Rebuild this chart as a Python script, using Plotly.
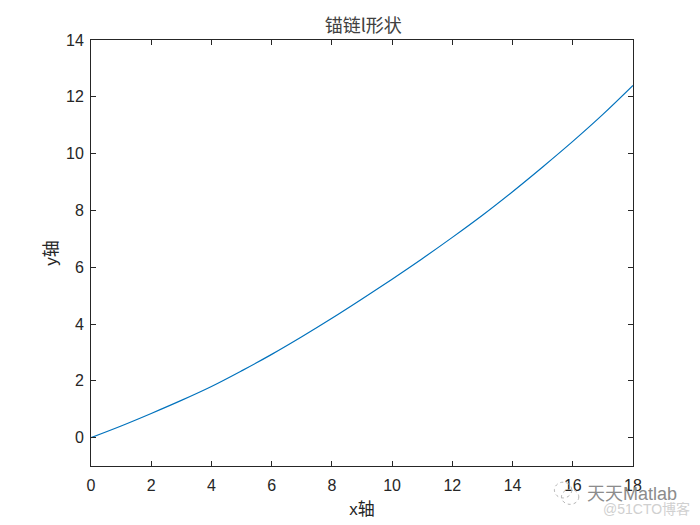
"""
plot.py
-------
Catenary-like curve with axis frame, in the MATLAB default look.
Writes out.html.
"""

import plotly.graph_objects as go

x_values = [0, 1, 2, 3, 4, 5, 6, 7, 8, 9, 10, 11, 12, 13, 14, 15, 16, 17, 18]
y_values = [0.0, 0.41, 0.85, 1.31, 1.80, 2.35, 2.93, 3.55, 4.20, 4.88, 5.58,
            6.30, 7.05, 7.83, 8.66, 9.53, 10.43, 11.38, 12.40]
x_ticks = [0, 2, 4, 6, 8, 10, 12, 14, 16, 18]
y_ticks = [0, 2, 4, 6, 8, 10, 12, 14]

TEXT = "#262626"
LINE = "#0072BD"
FONT = "Liberation Sans, Noto Sans CJK SC, sans-serif"
TITLE_FONT = "Noto Sans CJK SC, sans-serif"

fig = go.Figure()
fig.add_trace(go.Scatter(x=x_values, y=y_values, mode="lines", showlegend=False,
                         line=dict(color=LINE, width=1.2, shape="spline")))

axis_style = dict(showgrid=False, zeroline=False, showline=True, linecolor=TEXT,
                  linewidth=1, mirror="allticks", ticks="inside", ticklen=5,
                  tickwidth=1, tickcolor=TEXT,
                  tickfont=dict(family=FONT, size=16, color=TEXT))

fig.update_layout(
    width=700, height=525, template=None,
    paper_bgcolor="white", plot_bgcolor="white",
    margin=dict(l=91, r=67, t=40, b=59),
    title=dict(text="锚链l形状", x=0.519, xanchor="center", y=0.952, yanchor="middle",
               font=dict(family=TITLE_FONT, size=18, color="#404040")),
    xaxis=dict(range=[0, 18], tickvals=x_ticks, ticklabelstandoff=5, **axis_style,
               title=dict(text="x轴", font=dict(family=FONT, size=17, color=TEXT), standoff=9)),
    yaxis=dict(range=[-1, 14], tickvals=y_ticks, ticklabelstandoff=3, **axis_style,
               title=dict(text="y轴", font=dict(family=FONT, size=17, color=TEXT), standoff=4)),
)

# watermark in the lower right corner
fig.add_annotation(text="天天Matlab", xref="paper", yref="paper", x=0.999, y=-0.066,
                   xanchor="center", yanchor="middle", showarrow=False,
                   font=dict(family=FONT, size=18, color="#8c8c8c"))
fig.add_annotation(text="@51CTO博客", xref="paper", yref="paper", x=1.024, y=-0.102,
                   xanchor="center", yanchor="middle", showarrow=False,
                   font=dict(family=FONT, size=14, color="#d0d0d0"))
fig.add_shape(type="circle", xref="paper", yref="paper", x0=0.855, x1=0.887,
              y0=-0.075, y1=-0.038, line=dict(color="#b5b5b5", width=1, dash="dot"))
fig.add_shape(type="circle", xref="paper", yref="paper", x0=0.868, x1=0.9,
              y0=-0.09, y1=-0.055, line=dict(color="#b5b5b5", width=1, dash="dot"))

fig.write_html("out.html", config=dict(displayModeBar=False),
               post_script="document.body.style.margin='0';")
